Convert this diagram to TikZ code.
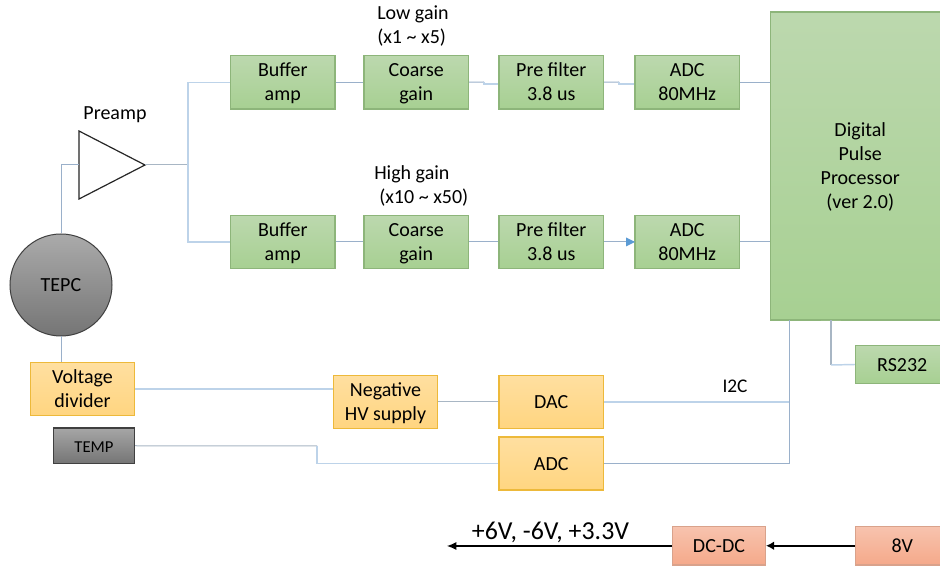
\documentclass[tikz,border=0pt]{standalone}
\usepackage{fontspec}
\setmainfont{Carlito}
\usetikzlibrary{arrows.meta,shapes.geometric}
\definecolor{gT}{HTML}{BCD8AE}\definecolor{gB}{HTML}{A7D092}\definecolor{gD}{HTML}{8DB57A}
\definecolor{yT}{HTML}{FFDFA0}\definecolor{yB}{HTML}{FFD580}\definecolor{yD}{HTML}{EDB93A}
\definecolor{rT}{HTML}{F7C3AE}\definecolor{rB}{HTML}{F5A98A}\definecolor{rD}{HTML}{D9A28B}
\definecolor{kT}{HTML}{A6A6A6}\definecolor{kB}{HTML}{757575}\definecolor{kD}{HTML}{404040}
\definecolor{lnD}{HTML}{9AB0CA}\definecolor{lnL}{HTML}{BDD3E9}\definecolor{arrB}{HTML}{5B9BD5}
\definecolor{lnG}{HTML}{A8B6C4}
\tikzset{
 x=0.75pt,y=-0.75pt,
 boxbase/.style={rectangle,inner sep=0pt,align=center,font=\fontsize{15}{18}\selectfont,line width=0.8pt},
 gbox/.style={boxbase,draw=gD,top color=gT,bottom color=gB},
 ybox/.style={boxbase,draw=yD,top color=yT,bottom color=yB},
 rbox/.style={boxbase,draw=rD,top color=rT,bottom color=rB},
 kbox/.style={boxbase,draw=kD,top color=kT,bottom color=kB},
 lnk/.style={draw=lnD,line width=0.75pt},
 lnl/.style={draw=lnL,line width=1.1pt},
 lbl/.style={inner sep=0pt,align=left,font=\fontsize{15}{18.3}\selectfont},
}
\newcommand{\bxn}[7]{\node[#2,minimum width={(#5-#3)*0.75pt},minimum height={(#6-#4)*0.75pt}] (#1) at ({(#3+#5)/2},{(#4+#6)/2}) {\rule{0pt}{13pt}#7\rule[-3pt]{0pt}{3pt}};}
\begin{document}
\begin{tikzpicture}
\clip (0,0) rectangle (940,566);
\fill[white] (0,0) rectangle (940,566);
% upper chain
\bxn{b1}{gbox}{230.5}{55.5}{335}{109}{Buffer\\amp}
\bxn{c1}{gbox}{364}{55.5}{468.5}{109}{Coarse\\gain}
\bxn{p1}{gbox}{499}{55.5}{603.5}{109}{Pre filter\\3.8 us}
\bxn{a1}{gbox}{635}{55.5}{739.5}{109}{ADC\\80MHz}
\bxn{b2}{gbox}{230.5}{215.5}{335}{268.5}{Buffer\\amp}
\bxn{c2}{gbox}{364}{215.5}{468.5}{268.5}{Coarse\\gain}
\bxn{p2}{gbox}{499}{215.5}{603.5}{268.5}{Pre filter\\3.8 us}
\bxn{a2}{gbox}{635}{215.5}{739.5}{268.5}{ADC\\80MHz}
\bxn{dpp}{gbox}{770.5}{12}{950}{320}{Digital\\Pulse\\Processor\\(ver 2.0)}
\bxn{rs}{gbox}{855.5}{345.5}{949}{383.5}{RS232}
\bxn{vd}{ybox}{30.5}{362.5}{134.5}{415.5}{Voltage\\divider}
\bxn{hv}{ybox}{333.5}{375.5}{437.5}{428.5}{Negative\\HV supply}
\bxn{dac}{ybox}{499}{375.5}{603.5}{428.5}{DAC}
\bxn{adc}{ybox}{499}{437}{603.5}{490}{ADC}
\bxn{temp}{kbox,font=\fontsize{12.5}{15}\selectfont}{53.5}{428}{134.5}{463.5}{TEMP}
\bxn{dc}{rbox}{672.5}{526.5}{765.5}{565}{DC-DC}
\bxn{v8}{rbox}{855.5}{526.5}{949}{565}{8V}
% TEPC
\node[circle,minimum size=76.5pt,inner sep=0pt,draw=kD,line width=0.75pt,top color=kT!95!white,bottom color=kB,font=\fontsize{15}{18}\selectfont] (tepc) at (61,285) {\rule{0pt}{13pt}TEPC\rule[-3pt]{0pt}{3pt}};
% Preamp
\coordinate (tA) at (79,131);\coordinate (tB) at (79,199);\coordinate (tC) at (145,165);\coordinate (tW) at (79,165);
\draw[line width=0.9pt,draw=black!85,line join=miter] (tA) -- (tC) -- (tB) -- cycle;
% junctions
\coordinate (jm) at (188,165);
\draw[lnk] (tepc.north) |- (tW);
\draw[lnk] (tepc.south) -- (tepc.south |- vd.north);
\draw[lnk,draw=lnG] (tC) -- (jm);
\draw[lnl] (b1.west) -| (jm);
\draw[lnl] (jm) |- (b2.west);
\draw[lnk] (b1.east) -- (c1.west);
\draw[lnk] (b2.east) -- (c2.west);
\draw[lnk] (c1.east) -- (484,82);
\draw[lnl] (484,82) -- (484,84) -- (p1.west |- 0,84);
\draw[lnk] (p1.east) -- (619,82);
\draw[lnl] (619,82) -- (619,84) -- (a1.west |- 0,84);
\draw[lnk] (a1.east) -- (dpp.west |- a1.east);
\draw[lnk] (c2.east) -- (p2.west);
\draw[lnk] (p2.east) -- (a2.west);
\fill[arrB] (626,237.5) -- (635,242) -- (626,246.5) -- cycle;
\draw[lnk] (a2.east) -- (dpp.west |- a2.east);
\draw[lnl] (vd.east) -- (hv.west |- vd.east);
\draw[lnk,draw=lnG] (hv.east) -- (dac.west);
\coordinate (bus) at (789.5,320);
\draw[lnl] (dac.east) -- (bus |- dac.east);
\draw[lnk] (bus) -- (bus |- adc.east) -- (adc.east);
\draw[lnk,draw=lnG] (temp.east) -- (317,446);
\draw[lnl] (317,446) -- (317,463.5) -- (adc.west);
\fill[gB!90!black] (821,320) rectangle (841,321.5);
\coordinate (rsj) at (831,320);
\draw[draw=lnG,line width=1.2pt] (rsj) -- (831,365);
\draw[lnl] (831,365) -- (rs.west);
% power
\coordinate (pwr) at (447,546);
\draw[line width=0.8pt,-{Latex[length=7pt,width=6pt]}] (dc.west |- pwr) -- (pwr);
\draw[line width=1.8pt,-{Latex[length=6pt,width=6.5pt]}] (v8.west) -- (dc.east);
% labels
\node[lbl,anchor=west] (lg) at (377,26) {Low gain\\(x1 \char`\~{} x5)};
\node[lbl,anchor=west] (hg) at (374,186) {High gain\\\hspace*{3.75pt}(x10 \char`\~{} x50)};
\node[lbl] (pa) at (115,115) {Preamp};
\node[lbl,font=\fontsize{14.5}{17}\selectfont] (i2c) at (735,386.5) {I2C};
\node[lbl,font=\fontsize{19.4}{23}\selectfont] (pv) at (550.5,532) {+6V, -6V, +3.3V};
\end{tikzpicture}
\end{document}
